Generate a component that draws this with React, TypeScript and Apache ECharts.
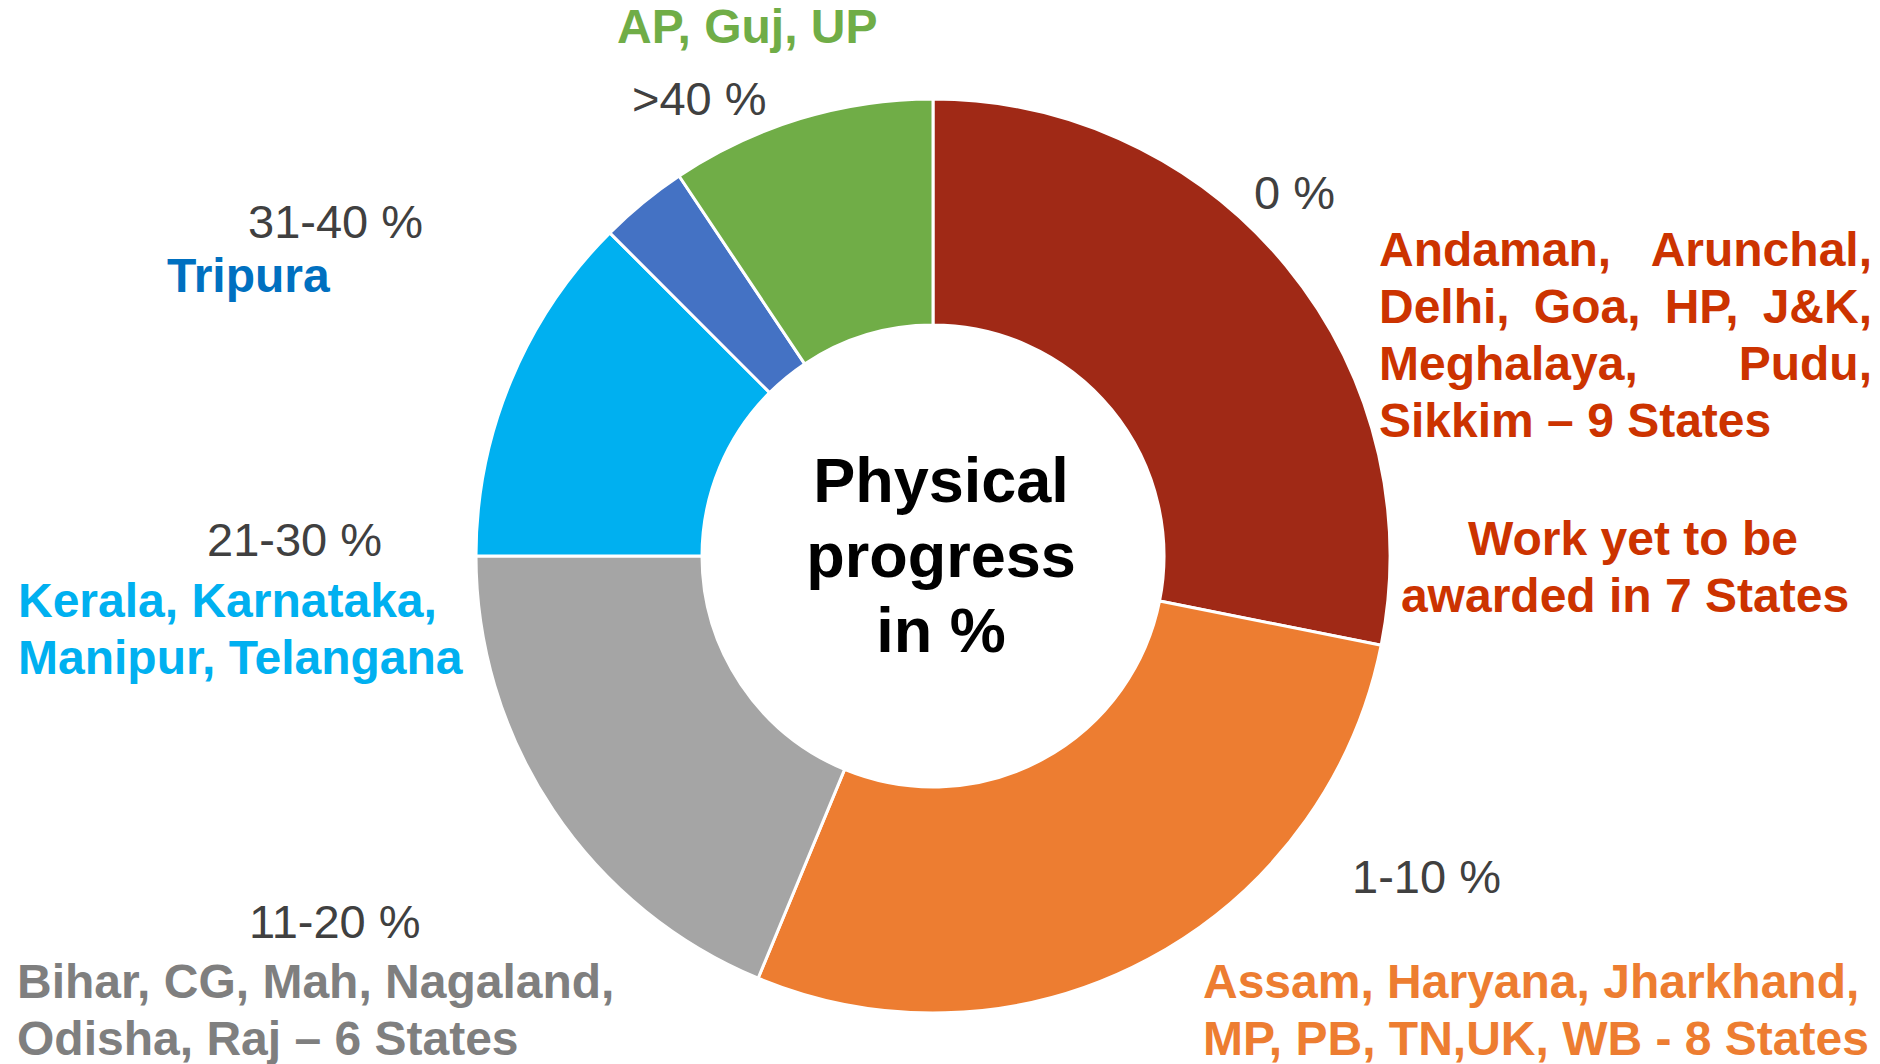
import React, { useEffect, useRef } from 'react';
import * as echarts from 'echarts';

// ---------- data ----------
const categories = ['0 %', '1-10 %', '11-20 %', '21-30 %', '31-40 %', '>40 %'];
const stateCounts = [9, 9, 6, 4, 1, 3];
const stateLines: string[][] = [
  ['Andaman, Arunchal,', 'Delhi, Goa, HP, J&K,', 'Meghalaya, Pudu,', 'Sikkim – 9 States'],
  ['Assam, Haryana, Jharkhand,', 'MP, PB, TN,UK, WB - 8 States'],
  ['Bihar, CG, Mah, Nagaland,', 'Odisha, Raj – 6 States'],
  ['Kerala, Karnataka,', 'Manipur, Telangana'],
  ['Tripura'],
  ['AP, Guj, UP'],
];
const noteLines = ['Work yet to be', 'awarded in 7 States'];
const centerLines = ['Physical', 'progress', 'in %'];

// ---------- styles / layout ----------
const FONT = '"Liberation Sans", Arial, sans-serif';
const SLICE_COLORS = ['#A02916', '#ED7D31', '#A5A5A5', '#00B0F0', '#4472C4', '#70AD47'];
const TEXT_COLORS = ['#CC3300', '#ED7D31', '#7F7F7F', '#00B0F0', '#0070C0', '#70AD47'];
const CAT_LAYOUT = [
  { x: 1254, b: 209 },
  { x: 1352, b: 893 },
  { x: 249, b: 938 },
  { x: 207, b: 556 },
  { x: 248, b: 238 },
  { x: 632, b: 115 },
];
const STATE_LAYOUT: { x: number; b: number; right?: number }[] = [
  { x: 1379, b: 266, right: 1872 },
  { x: 1203, b: 998 },
  { x: 17, b: 998 },
  { x: 18, b: 617 },
  { x: 167, b: 292 },
  { x: 617, b: 43 },
];
const CAT_FS = 47;
const BOLD_FS = 48;
const BOLD_LH = 57;
const CENTER_FS = 63;
const CENTER_LH = 75;

function mid(baseline: number, fs: number) {
  return baseline - 0.3465 * fs;
}

function textEl(text: string, x: number, baseline: number, fs: number, bold: boolean, fill: string, align = 'left') {
  return {
    type: 'text',
    x,
    y: mid(baseline, fs),
    silent: true,
    style: {
      text,
      fill,
      fontSize: fs,
      fontWeight: bold ? 'bold' : 'normal',
      fontFamily: FONT,
      textAlign: align,
      align,
      textVerticalAlign: 'middle',
      verticalAlign: 'middle',
    },
  };
}

function measure(text: string, fs: number, bold: boolean) {
  const c = document.createElement('canvas');
  const ctx = c.getContext('2d')!;
  ctx.font = `${bold ? 'bold ' : ''}${fs}px ${FONT}`;
  return ctx.measureText(text).width;
}

function buildGraphics() {
  const els: any[] = [];
  categories.forEach((cat, i) => {
    const L = CAT_LAYOUT[i];
    els.push(textEl(cat, L.x, L.b, CAT_FS, false, '#404040'));
  });
  stateLines.forEach((lines, i) => {
    const L = STATE_LAYOUT[i];
    lines.forEach((line, j) => {
      const b = L.b + j * BOLD_LH;
      const isLast = j === lines.length - 1;
      if (L.right && !isLast) {
        const words = line.split(/\s+/);
        const widths = words.map((w) => measure(w, BOLD_FS, true));
        const total = widths.reduce((a, v) => a + v, 0);
        const gap = words.length > 1 ? (L.right - L.x - total) / (words.length - 1) : 0;
        let cx = L.x;
        words.forEach((w, k) => {
          els.push(textEl(w, cx, b, BOLD_FS, true, TEXT_COLORS[i]));
          cx += widths[k] + gap;
        });
      } else {
        els.push(textEl(line, L.x, b, BOLD_FS, true, TEXT_COLORS[i]));
      }
    });
  });
  const noteX = [1633, 1625];
  noteLines.forEach((line, j) => {
    els.push(textEl(line, noteX[j], 555 + j * BOLD_LH, BOLD_FS, true, TEXT_COLORS[0], 'center'));
  });
  centerLines.forEach((line, j) => {
    els.push(textEl(line, 941, 502 + j * CENTER_LH, CENTER_FS, true, '#000000', 'center'));
  });
  return els;
}

export default function App() {
  const ref = useRef<HTMLDivElement>(null);
  useEffect(() => {
    if (!ref.current) return;
    const chart = echarts.init(ref.current, undefined, { renderer: 'svg' });
    chart.setOption({
      animation: false,
      backgroundColor: '#ffffff',
      series: [
        {
          type: 'pie',
          center: [933, 556],
          radius: [231, 457],
          startAngle: 90,
          clockwise: true,
          silent: true,
          label: { show: false },
          labelLine: { show: false },
          emphasis: { disabled: true },
          itemStyle: { borderColor: '#ffffff', borderWidth: 3 },
          data: categories.map((name, i) => ({
            name,
            value: stateCounts[i],
            itemStyle: { color: SLICE_COLORS[i] },
          })),
        },
      ],
      graphic: buildGraphics(),
    });
    return () => chart.dispose();
  }, []);
  return (
    <div
      ref={ref}
      style={{ position: 'fixed', left: 0, top: 0, width: 1880, height: 1064, background: '#fff' }}
    />
  );
}
